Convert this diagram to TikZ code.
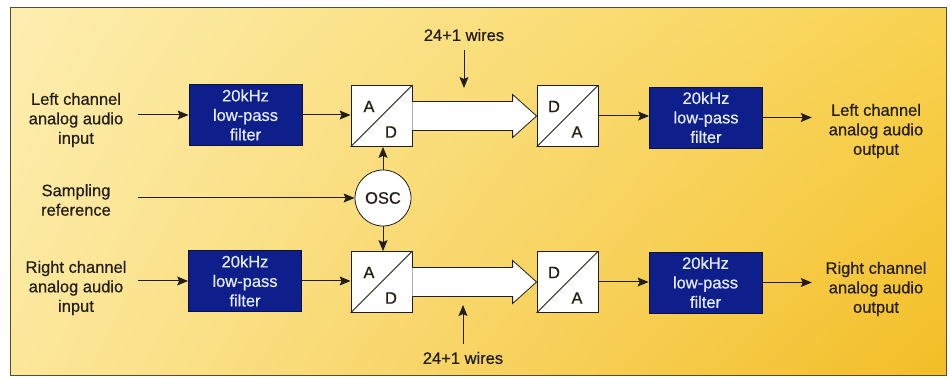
\documentclass[tikz,border=0pt]{standalone}
\usepackage{fontspec}
\setmainfont[FakeBold=0.6]{Liberation Sans}
\usetikzlibrary{arrows.meta,calc,shadings}
\definecolor{ink}{RGB}{35,30,20}
\definecolor{filtblue}{RGB}{14,30,138}
\definecolor{filtedge}{RGB}{10,15,70}
\definecolor{filttext}{RGB}{228,236,255}
\definecolor{bgUL}{RGB}{253,238,176}
\definecolor{bgUR}{RGB}{248,210,80}
\definecolor{bgLL}{RGB}{252,231,155}
\definecolor{bgLR}{RGB}{243,190,38}
\definecolor{framec}{RGB}{85,75,55}
\begin{document}
\begin{tikzpicture}[x=1pt,y=-1pt,
  txt/.style={font=\fontsize{16.5}{19.5}\selectfont},
  lbl/.style={txt,align=center,text=ink,inner sep=0pt},
  inlbl/.style={lbl,minimum width=124pt},
  outlbl/.style={lbl,minimum width=128pt},
  filt/.style={txt,draw=filtedge,fill=filtblue,text=filttext,align=center,
    minimum width=113pt,minimum height=61pt,inner sep=0pt,line width=0.8pt},
  conv/.style={draw=ink,fill=white,minimum size=61pt,inner sep=0pt,line width=0.8pt},
  oscnode/.style={txt,circle,draw=ink,fill=white,minimum size=56pt,inner sep=0pt,line width=0.8pt,text=ink},
  arr/.style={draw=ink,line width=1pt,-{Stealth[length=11pt,width=9pt,inset=2pt]}},
  fat/.style={draw=ink,fill=white,line width=0.8pt,line join=miter}
]
\useasboundingbox (0,0) rectangle (950,379);
\fill[white] (0,0) rectangle (950,379);
\shade[upper left=bgUL,upper right=bgUR,lower left=bgLL,lower right=bgLR] (10,8) rectangle (946,375);
\draw[framec,line width=1pt] (10,8) rectangle (946,375);

% top row
\node[inlbl] (inL) at (76,120) {Left channel\\analog audio\\input};
\node[filt] (fL) at (245.5,115) {20kHz\\low-pass\\filter};
\node[conv] (adL) at (381.5,116) {};
\node[conv] (daL) at (567.5,116) {};
\node[filt] (ffL) at (706,117.5) {20kHz\\low-pass\\filter};
\node[outlbl] (outL) at (876,131) {Left channel\\analog audio\\output};

% middle
\node[inlbl] (samp) at (76,200) {Sampling\\reference};
\node[oscnode] (osc) at (383,198) {OSC};

% bottom row
\node[inlbl] (inR) at (76,288) {Right channel\\analog audio\\input};
\node[filt] (fR) at (245,281) {20kHz\\low-pass\\filter};
\node[conv] (adR) at (381.5,282) {};
\node[conv] (daR) at (567.5,282) {};
\node[filt] (ffR) at (705.5,282.5) {20kHz\\low-pass\\filter};
\node[outlbl] (outR) at (876,289) {Right channel\\analog audio\\output};

% converter diagonals and letters
\foreach \b in {adL,daL,adR,daR}{
  \draw[ink,line width=0.8pt] (\b.south west) -- (\b.north east);
}
\node[lbl] (adLa) at ($(adL.center)+(-12.5,-9.5)$) {A};
\node[lbl] (adLd) at ($(adL.center)+(9.5,16)$) {D};
\node[lbl] (daLd) at ($(daL.center)+(-13.5,-9.5)$) {D};
\node[lbl] (daLa) at ($(daL.center)+(9.5,16)$) {A};
\node[lbl] (adRa) at ($(adR.center)+(-12.5,-9.5)$) {A};
\node[lbl] (adRd) at ($(adR.center)+(9.5,16)$) {D};
\node[lbl] (daRd) at ($(daR.center)+(-13.5,-9.5)$) {D};
\node[lbl] (daRa) at ($(daR.center)+(9.5,16)$) {A};

% fat bus arrows
\foreach \a/\d in {adL/daL,adR/daR}{
  \filldraw[fat] ($(\a.east)+(0,-14.5)$) -- ($(\d.west)+(-24,-14.5)$) -- ($(\d.west)+(-24,-21.5)$)
    -- (\d.west) -- ($(\d.west)+(-24,21.5)$) -- ($(\d.west)+(-24,14.5)$) -- ($(\a.east)+(0,14.5)$);
}

% wire labels
\node[lbl] (wtop) at (464,35) {24+1 wires};
\coordinate (wtTip) at (464,88);
\draw[arr] ($(wtop.south)+(0,9)$) -- (wtTip);
\node[lbl] (wbot) at (463,358) {24+1 wires};
\coordinate (wbTip) at (463,305);
\draw[arr] ($(wbot.north)+(0,-8)$) -- (wbTip);

% connectors top
\draw[arr] (inL.east |- fL.west) -- (fL.west);
\draw[arr] (fL.east) -- (fL.east -| adL.west);
\draw[arr] (daL.east) -- (daL.east -| ffL.west);
\draw[arr] (ffL.east) -- (ffL.east -| outL.west);

% sampling / osc
\draw[arr] (samp.east |- osc.west) -- (osc.west);
\draw[arr] (osc.north) -- (osc.north |- adL.south);
\draw[arr] (osc.south) -- (osc.south |- adR.north);

% connectors bottom
\draw[arr] (inR.east |- fR.west) -- (fR.west);
\draw[arr] (fR.east) -- (fR.east -| adR.west);
\draw[arr] (daR.east) -- (daR.east -| ffR.west);
\draw[arr] (ffR.east) -- (ffR.east -| outR.west);
\end{tikzpicture}
\end{document}
